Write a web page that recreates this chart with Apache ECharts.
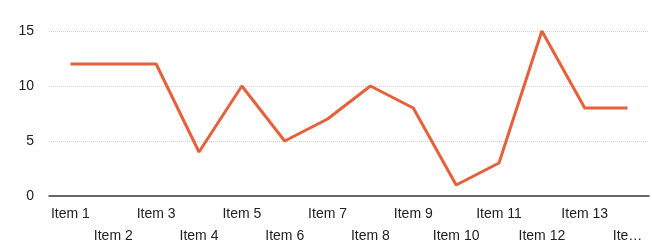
<!DOCTYPE html>
<html>
<head>
<meta charset="utf-8">
<script src="https://cdn.jsdelivr.net/npm/echarts@6/dist/echarts.min.js"></script>
<style>
  html, body { margin: 0; padding: 0; background: #fff; }
  #chart { width: 652px; height: 244px; }
</style>
</head>
<body>
<div id="chart"></div>
<script>
const categories = ['Item 1', 'Item 2', 'Item 3', 'Item 4', 'Item 5', 'Item 6', 'Item 7',
  'Item 8', 'Item 9', 'Item 10', 'Item 11', 'Item 12', 'Item 13', 'Item 14'];
const values = [12, 12, 12, 4, 10, 5, 7, 10, 8, 1, 3, 15, 8, 8];
const yTicks = [0, 5, 10, 15];

const chart = echarts.init(document.getElementById('chart'));

chart.setOption({
  animation: false,
  grid: {
    left: 49,
    right: 3,
    top: 31,
    bottom: 48,
    outerBoundsMode: 'none'
  },
  xAxis: {
    type: 'category',
    data: categories,
    boundaryGap: true,
    axisTick: { show: false },
    axisLine: { lineStyle: { color: '#3a3a3a', width: 1.5 } },
    axisLabel: {
      interval: 0,
      margin: 7,
      color: '#222',
      fontFamily: 'Liberation Sans',
      fontSize: 14,
      lineHeight: 22,
      formatter: (v, i) => {
        // last category is cut off at the right edge in the original
        let t = i === categories.length - 1 ? v.slice(0, 3) + '…' : v;
        return i % 2 ? '\n' + t : t;
      }
    }
  },
  yAxis: {
    type: 'value',
    min: yTicks[0],
    max: yTicks[yTicks.length - 1],
    interval: 5,
    axisLabel: {
      margin: 15,
      color: '#222',
      fontFamily: 'Liberation Sans',
      fontSize: 14
    },
    splitLine: { lineStyle: { color: '#d4d4d4', type: 'dotted', width: 1 } }
  },
  series: [{
    type: 'line',
    data: values,
    showSymbol: false,
    lineStyle: { color: '#e5613b', width: 3 },
    itemStyle: { color: '#e5613b' }
  }]
});
</script>
</body>
</html>
